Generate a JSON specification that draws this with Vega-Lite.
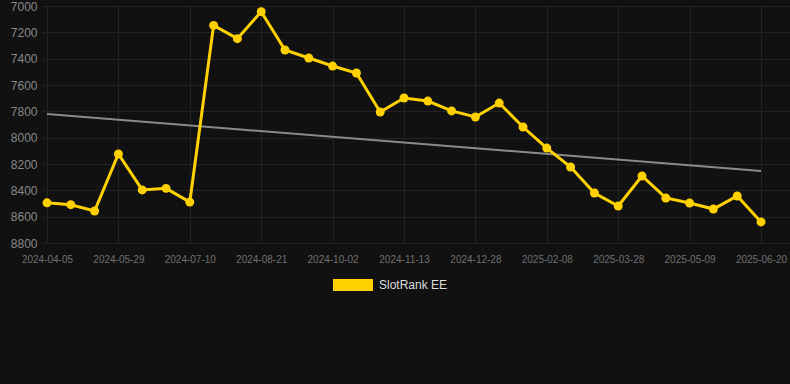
{
  "$schema": "https://vega.github.io/schema/vega-lite/v6.json",
  "autosize": "none",
  "width": 748,
  "height": 237,
  "padding": {"left": 42, "top": 6, "right": 0, "bottom": 141},
  "background": "#111111",
  "config": {
    "view": {"stroke": null},
    "font": "Liberation Sans",
    "axisY": {"labelOverlap": false, "format": "d"}
  },
  "data": {
    "values": [
      {"date": "2024-04-05", "rank": 8495, "trend": 7820},
      {"date": "2024-04-23", "rank": 8509},
      {"date": "2024-05-11", "rank": 8557},
      {"date": "2024-05-29", "rank": 8124},
      {"date": "2024-06-12", "rank": 8397},
      {"date": "2024-06-26", "rank": 8385},
      {"date": "2024-07-10", "rank": 8489},
      {"date": "2024-07-24", "rank": 7147},
      {"date": "2024-08-07", "rank": 7248},
      {"date": "2024-08-21", "rank": 7043},
      {"date": "2024-09-04", "rank": 7334},
      {"date": "2024-09-18", "rank": 7395},
      {"date": "2024-10-02", "rank": 7456},
      {"date": "2024-10-16", "rank": 7509},
      {"date": "2024-10-30", "rank": 7805},
      {"date": "2024-11-13", "rank": 7699},
      {"date": "2024-11-28", "rank": 7722},
      {"date": "2024-12-13", "rank": 7797},
      {"date": "2024-12-28", "rank": 7843},
      {"date": "2025-01-11", "rank": 7737},
      {"date": "2025-01-25", "rank": 7919},
      {"date": "2025-02-08", "rank": 8079},
      {"date": "2025-02-24", "rank": 8223},
      {"date": "2025-03-12", "rank": 8420},
      {"date": "2025-03-28", "rank": 8519},
      {"date": "2025-04-11", "rank": 8291},
      {"date": "2025-04-25", "rank": 8458},
      {"date": "2025-05-09", "rank": 8496},
      {"date": "2025-05-23", "rank": 8542},
      {"date": "2025-06-06", "rank": 8443},
      {"date": "2025-06-20", "rank": 8640, "trend": 8253}
    ]
  },
  "encoding": {
    "x": {
      "field": "date",
      "type": "ordinal",
      "sort": null,
      "scale": {
        "type": "point",
        "padding": 0.714,
        "align": 0.147,
        "domain": ["2024-04-05", "2024-04-23", "2024-05-11", "2024-05-29", "2024-06-12", "2024-06-26", "2024-07-10", "2024-07-24", "2024-08-07", "2024-08-21", "2024-09-04", "2024-09-18", "2024-10-02", "2024-10-16", "2024-10-30", "2024-11-13", "2024-11-28", "2024-12-13", "2024-12-28", "2025-01-11", "2025-01-25", "2025-02-08", "2025-02-24", "2025-03-12", "2025-03-28", "2025-04-11", "2025-04-25", "2025-05-09", "2025-05-23", "2025-06-06", "2025-06-20"]
      },
      "axis": {
        "title": null,
        "values": ["2024-04-05", "2024-05-29", "2024-07-10", "2024-08-21", "2024-10-02", "2024-11-13", "2024-12-28", "2025-02-08", "2025-03-28", "2025-05-09", "2025-06-20"],
        "labelAngle": 0,
        "labelFontSize": 10,
        "labelColor": "#707070",
        "labelPadding": 11,
        "ticks": false,
        "domain": false,
        "grid": true,
        "gridColor": "#232323",
        "gridWidth": 1
      }
    },
    "y": {
      "field": "rank",
      "type": "quantitative",
      "scale": {"domain": [7000, 8800], "reverse": true, "nice": false, "zero": false},
      "axis": {
        "title": null,
        "values": [7000, 7200, 7400, 7600, 7800, 8000, 8200, 8400, 8600, 8800],
        "format": "d",
        "labelOverlap": false,
        "labelFontSize": 12,
        "labelColor": "#888888",
        "labelPadding": 5,
        "ticks": false,
        "domain": false,
        "grid": true,
        "gridColor": "#232323",
        "gridWidth": 1
      }
    }
  },
  "layer": [
    {
      "transform": [{"filter": "datum.trend != null"}],
      "mark": {"type": "line", "color": "#8a8a8a", "strokeWidth": 2},
      "encoding": {
        "y": {"field": "trend", "type": "quantitative"}
      }
    },
    {
      "mark": {"type": "line", "color": "#FFD100", "strokeWidth": 3}
    },
    {
      "mark": {"type": "point", "filled": true, "opacity": 1, "size": 80},
      "encoding": {
        "color": {
          "datum": "SlotRank EE",
          "type": "nominal",
          "scale": {"domain": ["SlotRank EE"], "range": ["#FFD100"]},
          "legend": {
            "title": null,
            "orient": "none",
            "legendX": 291,
            "legendY": 259,
            "padding": 0,
            "symbolType": "M-1,-0.3H1V0.3H-1Z",
            "symbolSize": 1600,
            "symbolStrokeWidth": 0,
            "labelFontSize": 12,
            "labelColor": "#dddddd",
            "labelOffset": 6
          }
        }
      }
    }
  ]
}
